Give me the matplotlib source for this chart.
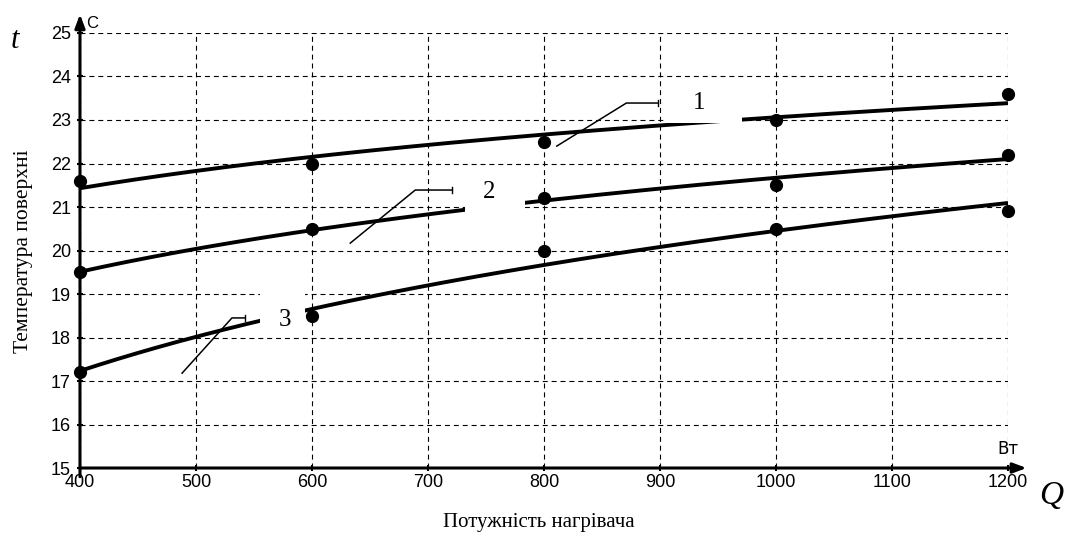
import numpy as np
import matplotlib.pyplot as plt
from matplotlib.patches import Rectangle

# measured points (power Q, W) and surface temperature t, C
q = [400, 600, 800, 1000, 1200]
t1 = [21.6, 22.0, 22.5, 23.0, 23.6]
t2 = [19.5, 20.5, 21.2, 21.5, 22.2]
t3 = [17.2, 18.5, 20.0, 20.5, 20.9]
x_ticks = [400, 500, 600, 700, 800, 900, 1000, 1100, 1200]
y_ticks = [15, 16, 17, 18, 19, 20, 21, 22, 23, 24, 25]

fig = plt.figure(figsize=(10.65, 5.4), dpi=100)
ax = fig.add_axes([0.0751, 0.1333, 0.8714, 0.8056])
ax.set_xlim(400, 1200)
ax.set_ylim(15, 25)

for s in ax.spines.values():
    s.set_visible(False)

ax.set_xticks(x_ticks)
ax.set_yticks(y_ticks)
ax.tick_params(direction='inout', length=5, width=1.5, color='black',
               labelsize=13)
ax.tick_params(axis='x', pad=2)
ax.tick_params(axis='y', pad=4)
for lab in ax.get_xticklabels() + ax.get_yticklabels():
    lab.set_fontfamily(['Liberation Sans Narrow', 'Liberation Sans'])
ax.grid(True, color='black', linestyle=(0, (4.5, 3.5)), linewidth=0.8)

# axes with arrows
ax.annotate('', xy=(1.02, 0), xytext=(0, 0), xycoords='axes fraction',
            arrowprops=dict(arrowstyle='-|>,head_length=0.8,head_width=0.3',
                            color='black', lw=2.2, shrinkA=0, shrinkB=0),
            annotation_clip=False, zorder=8)
ax.annotate('', xy=(0, 1.043), xytext=(0, -0.02), xycoords='axes fraction',
            arrowprops=dict(arrowstyle='-|>,head_length=0.8,head_width=0.3',
                            color='black', lw=2.2, shrinkA=0, shrinkB=0),
            annotation_clip=False, zorder=8)

# fitted log curves
xs = np.linspace(400, 1200, 200)
for t in (t1, t2, t3):
    b, a = np.polyfit(np.log(q), t, 1)
    ax.plot(xs, a + b * np.log(xs), color='black', lw=2.8, zorder=3,
            solid_capstyle='butt')
    ax.plot(q, t, 'o', color='black', ms=8.5, zorder=4, clip_on=False)

# white label boxes that cover the curves
boxes = [(904, 22.93, 67, 0.9), (732, 20.87, 52, 0.87), (555, 18.02, 39, 1.1)]
for x0, y0, w, h in boxes:
    ax.add_patch(Rectangle((x0, y0), w, h, facecolor='white',
                           edgecolor='none', zorder=5))

# leader lines and curve numbers
leaders = [([811, 871, 898], [22.40, 23.39, 23.39]),
           ([633, 689, 721], [20.17, 21.39, 21.39]),
           ([488, 531, 542], [17.18, 18.45, 18.45])]
for lx, ly in leaders:
    ax.plot(lx, ly, color='black', lw=1.1, zorder=6)
    ax.plot([lx[2], lx[2]], [ly[2] - 0.07, ly[2] + 0.07], color='black',
            lw=1.0, zorder=6)
labels = [('1', 934, 23.39), ('2', 753, 21.34), ('3', 577, 18.40)]
for txt, lx, ly in labels:
    ax.text(lx, ly, txt, fontsize=18, family='Liberation Serif',
            ha='center', va='center', zorder=7)

# unit labels and axis titles
ax.text(0.007, 1.021, 'C', transform=ax.transAxes, fontsize=12,
        family='Liberation Sans', ha='left', va='center')
ax.text(1.0, 0.043, 'Вт', transform=ax.transAxes, fontsize=12,
        family='DejaVu Sans', ha='center', va='center')
fig.text(15 / 1065, 1 - 40 / 540, 't', fontsize=22, style='italic',
         family='Liberation Serif', ha='center', va='center')
fig.text(1051 / 1065, 1 - 496 / 540, 'Q', fontsize=24, style='italic',
         family='Liberation Serif', ha='center', va='center')
fig.text(539 / 1065, 1 - 523 / 540, 'Потужність нагрівача', fontsize=15,
         family='Liberation Serif', ha='center', va='center')
fig.text(24 / 1065, 1 - 251 / 540, 'Температура поверхні', fontsize=15.5,
         family='Liberation Serif', ha='center', va='center', rotation=90)

fig.savefig('out.png', dpi=100)
